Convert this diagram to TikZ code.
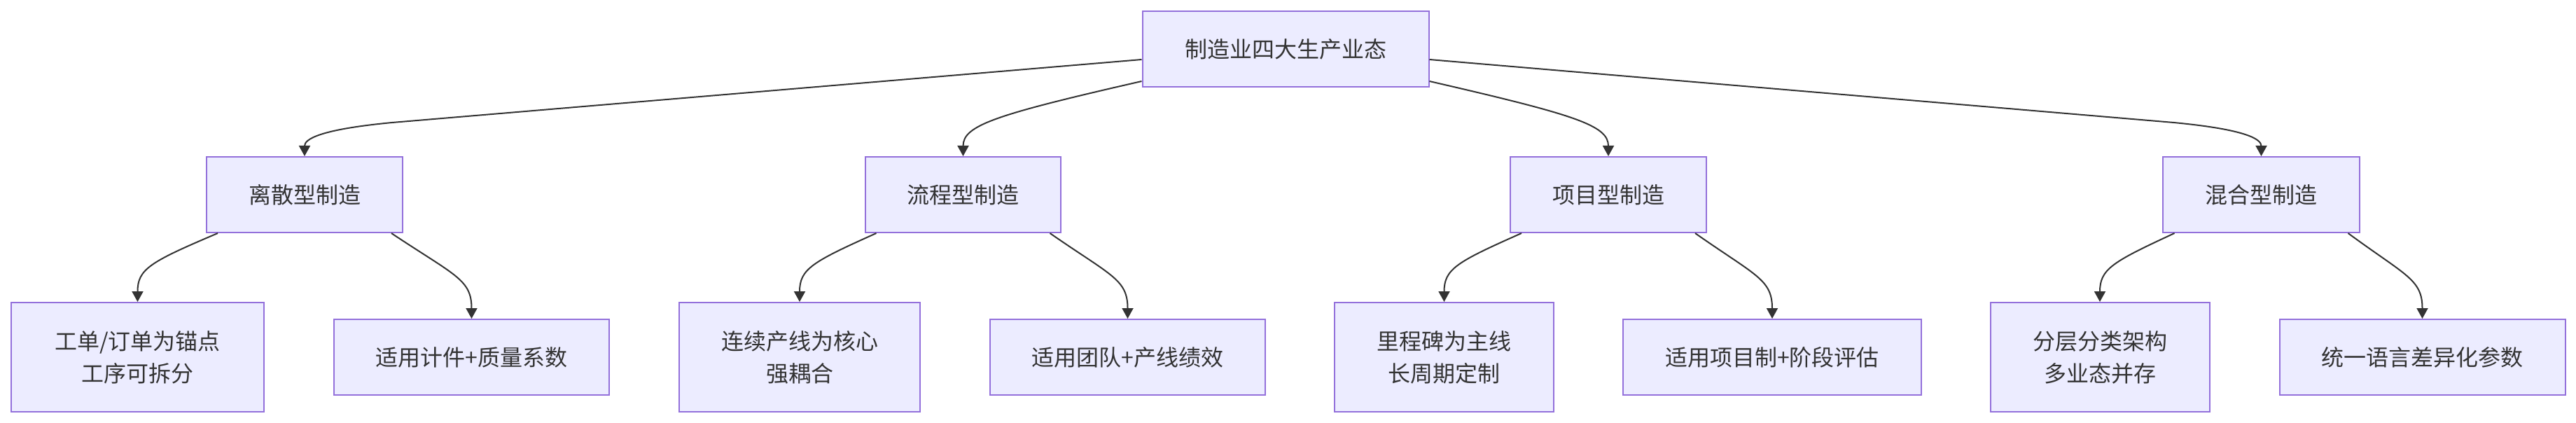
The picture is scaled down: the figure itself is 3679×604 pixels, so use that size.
\documentclass[tikz,border=0pt]{standalone}
\usepackage{fontspec}
\newfontfamily\cjk{Noto Sans CJK SC}
\usetikzlibrary{arrows.meta,calc}
\definecolor{boxfill}{HTML}{ECECFF}
\definecolor{boxline}{HTML}{9370DB}
\definecolor{ink}{HTML}{333333}
\tikzset{
  mbox/.style={draw=boxline, fill=boxfill, line width=2pt, inner sep=0pt,
    minimum height=108pt, align=center, text=ink,
    font=\cjk\fontsize{32}{46}\selectfont},
  tallbox/.style={mbox, minimum height=156pt},
  edge/.style={draw=ink, line width=2pt, -{Triangle[length=15pt,width=16pt]}}
}
\begin{document}
\begin{tikzpicture}[x=1pt,y=-1pt]
\fill[white] (0,0) rectangle (3679,604);
\useasboundingbox (0,0) rectangle (3679,604);

\node[mbox, minimum width=409pt] (root) at (1836,70) {制造业四大生产业态};

\node[mbox, minimum width=280pt] (d1) at (435,278) {离散型制造};
\node[mbox, minimum width=279pt] (d2) at (1375.5,278) {流程型制造};
\node[mbox, minimum width=280pt] (d3) at (2297,278) {项目型制造};
\node[mbox, minimum width=281pt] (d4) at (3229.5,278) {混合型制造};

\node[tallbox, minimum width=361pt] (a1) at (196.5,510) {工单/订单为锚点\\工序可拆分};
\node[mbox, minimum width=393pt] (b1) at (673.5,510) {适用计件+质量系数};
\node[tallbox, minimum width=344pt] (a2) at (1142,510) {连续产线为核心\\强耦合};
\node[mbox, minimum width=393pt] (b2) at (1610.5,510) {适用团队+产线绩效};
\node[tallbox, minimum width=313pt] (a3) at (2062.5,510) {里程碑为主线\\长周期定制};
\node[mbox, minimum width=426pt] (b3) at (2531,510) {适用项目制+阶段评估};
\node[tallbox, minimum width=313pt] (a4) at (2999,510) {分层分类架构\\多业态并存};
\node[mbox, minimum width=408pt] (b4) at (3459.5,510) {统一语言差异化参数};

% root to second level
\draw[edge] ($(root.west)+(0,15)$) -- ($(d1.north)+(125,-48)$)
  .. controls ($(d1.north)+(20,-38)$) and ($(d1.north)+(0,-24)$) .. (d1.north);
\draw[edge] ($(root.west)+(0,46)$)
  .. controls ($(d2.north)+(45,-59)$) and ($(d2.north)+(0,-44)$) .. (d2.north);
\draw[edge] ($(root.east)+(0,46)$)
  .. controls ($(d3.north)+(-47,-59)$) and ($(d3.north)+(0,-44)$) .. (d3.north);
\draw[edge] ($(root.east)+(0,15)$) -- ($(d4.north)+(-125,-48)$)
  .. controls ($(d4.north)+(-20,-38)$) and ($(d4.north)+(0,-24)$) .. (d4.north);

% second level to leaves
\foreach \p/\l/\r in {d1/a1/b1, d2/a2/b2, d3/a3/b3, d4/a4/b4}{
  \draw[edge] ($(\p.south)+(-124,0)$)
    .. controls ($(\l.north)+(18,-57)$) and ($(\l.north)+(0,-47)$) .. (\l.north);
  \draw[edge] ($(\p.south)+(124,0)$)
    .. controls ($(\r.north)+(-23,-61)$) and ($(\r.north)+(0,-56)$) .. (\r.north);
}
\end{tikzpicture}
\end{document}
